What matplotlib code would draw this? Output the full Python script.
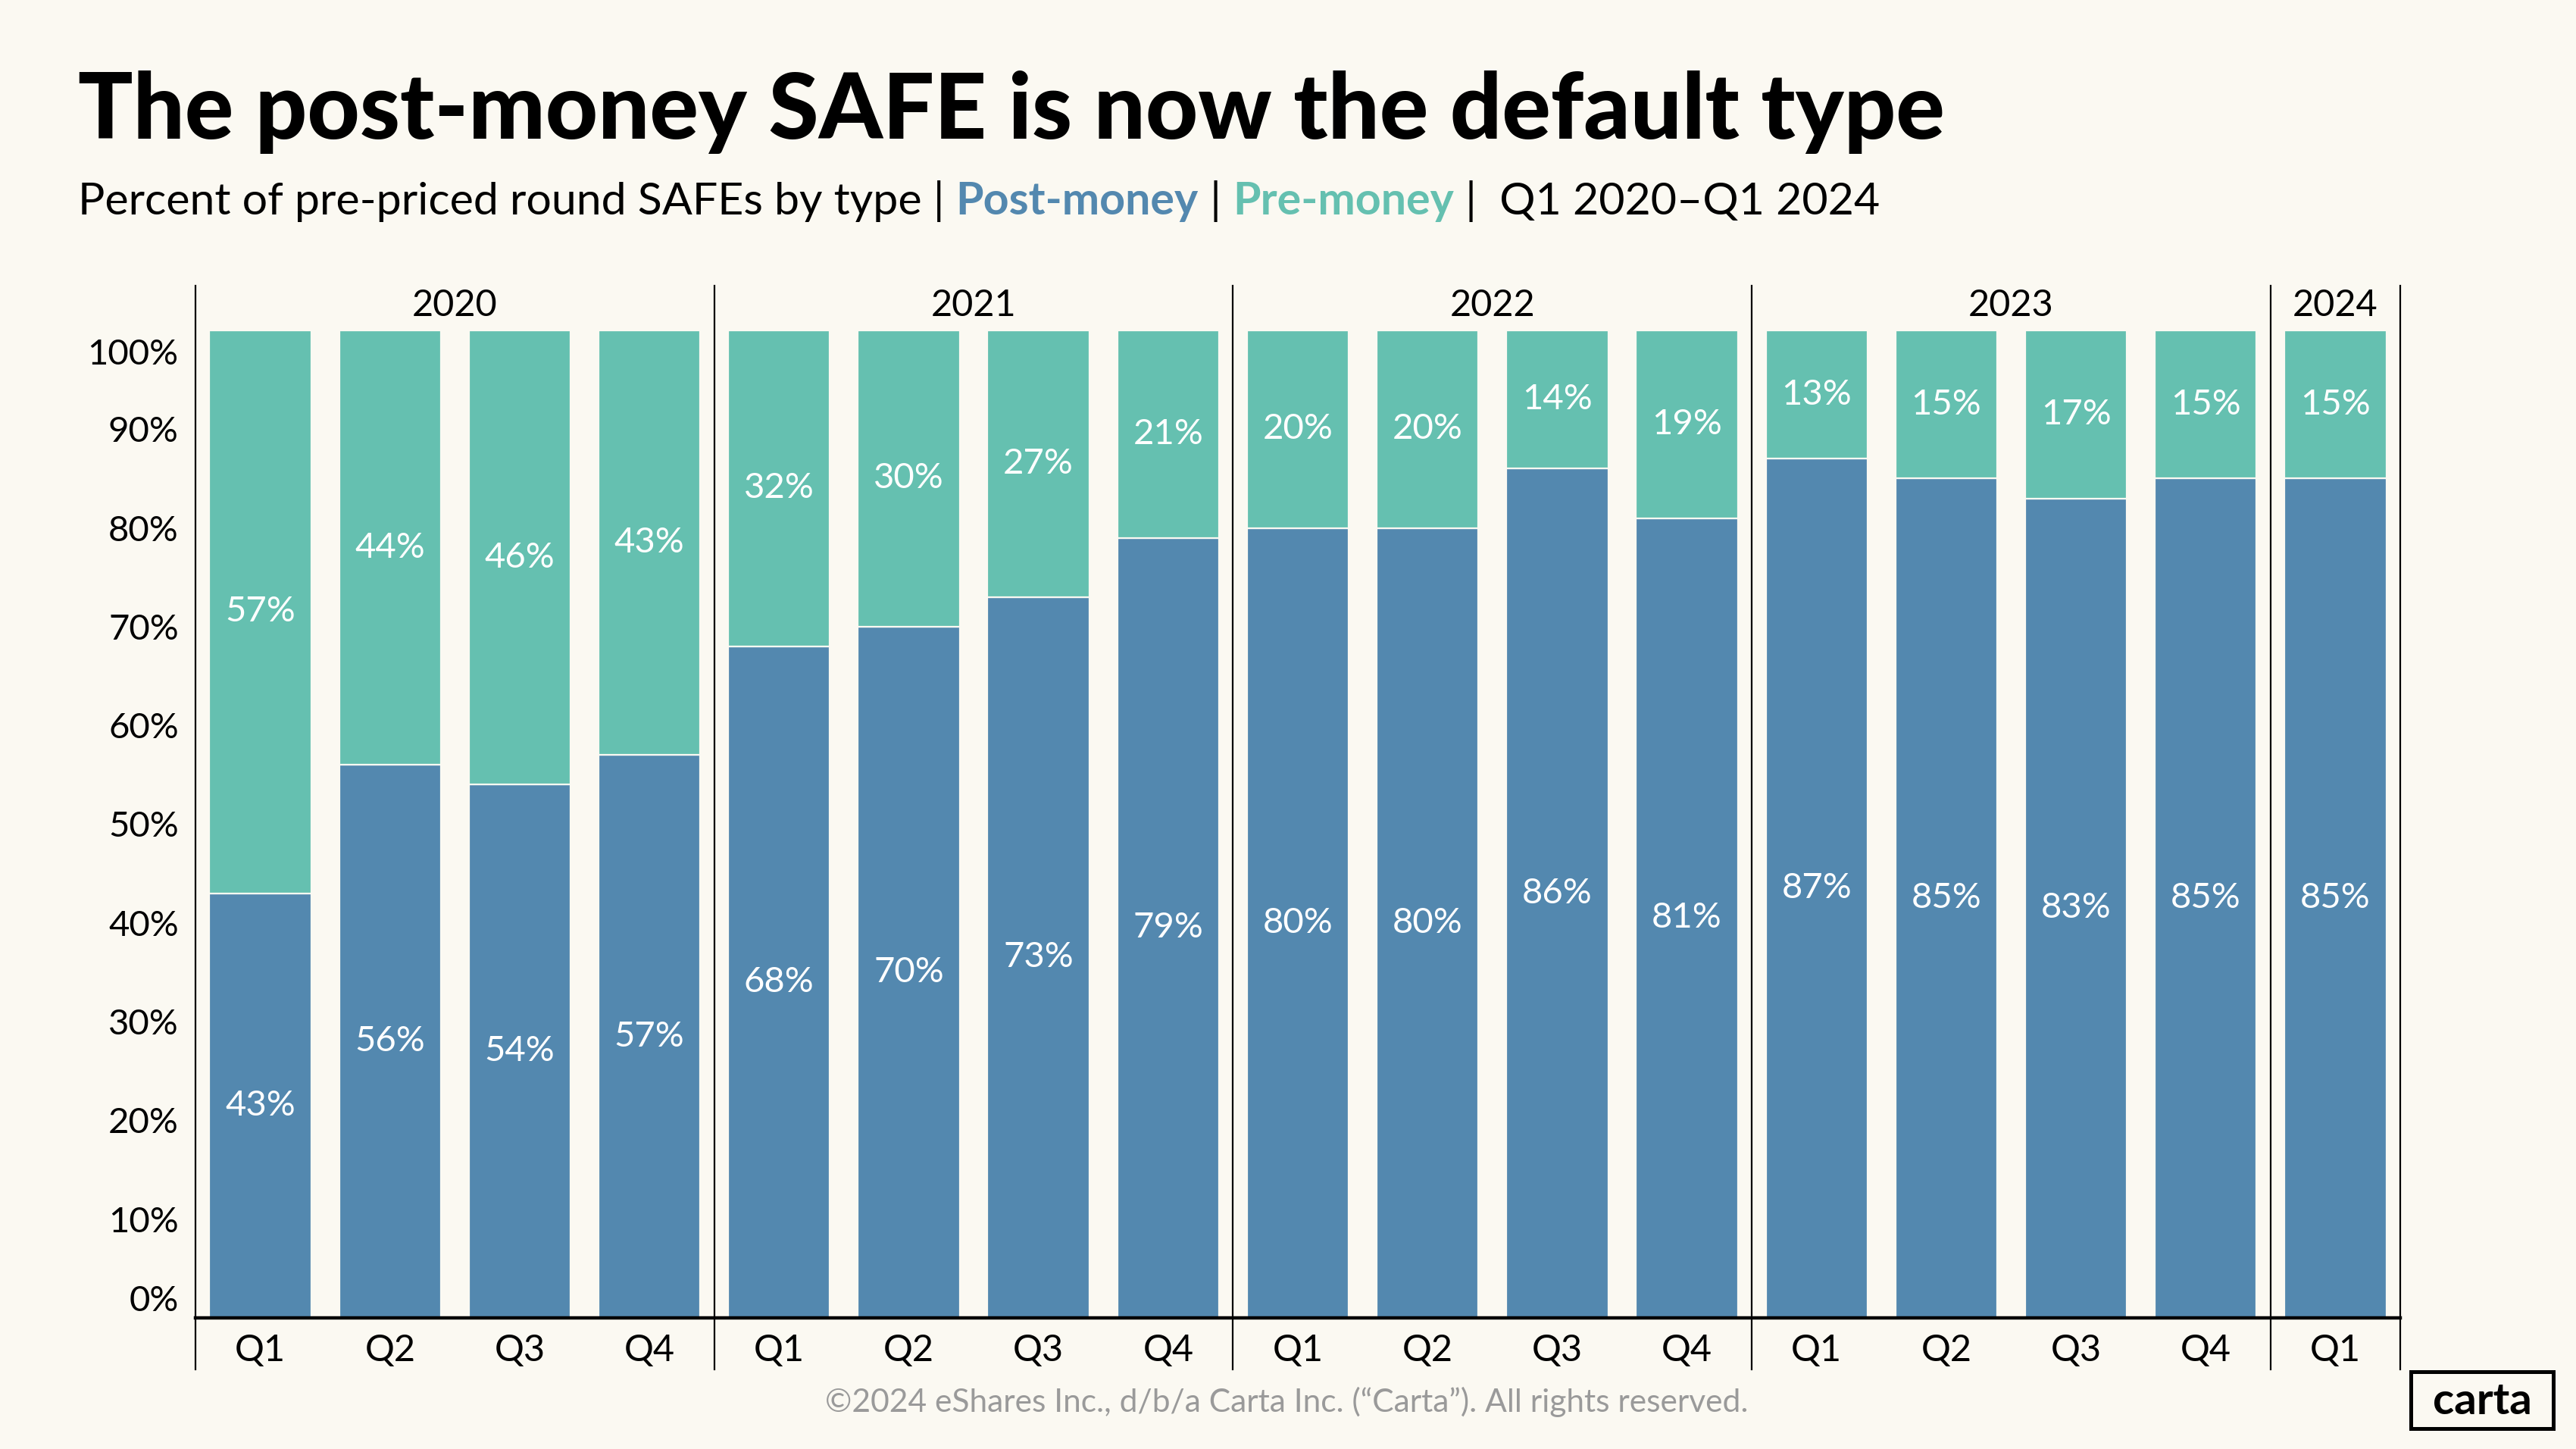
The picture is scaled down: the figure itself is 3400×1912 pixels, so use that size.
import matplotlib
matplotlib.use("Agg")
import matplotlib.pyplot as plt
from matplotlib.patches import Rectangle
from matplotlib.transforms import ScaledTranslation
import numpy as np

# data
years = ["2020", "2021", "2022", "2023", "2024"]
quarters_per_year = [4, 4, 4, 4, 1]
quarters = ["Q1", "Q2", "Q3", "Q4"] * 4 + ["Q1"]
post_money = [43, 56, 54, 57, 68, 70, 73, 79, 80, 80, 86, 81, 87, 85, 83, 85, 85]
pre_money = [57, 44, 46, 43, 32, 30, 27, 21, 20, 20, 14, 19, 13, 15, 17, 15, 15]
yticks = [0, 10, 20, 30, 40, 50, 60, 70, 80, 90, 100]

BG = "#FBF9F2"
POST = "#5388AF"
PRE = "#65C0B0"
FONT = "Lato"

plt.rcParams["font.family"] = [FONT, "DejaVu Sans"]

W, H = 3400, 1912
fig = plt.figure(figsize=(17, 9.56), dpi=200, facecolor=BG)
ax = fig.add_axes([258 / W, 1 - 1739 / H, (3168 - 258) / W, (1739 - 436) / H])
ax.set_facecolor(BG)

x = np.arange(len(post_money))
bw = 0.785
ax.bar(x, post_money, width=bw, color=POST, edgecolor=BG, linewidth=0.8)
ax.bar(x, pre_money, width=bw, bottom=post_money, color=PRE, edgecolor=BG, linewidth=0.8)

for i in range(len(x)):
    ax.text(x[i], post_money[i] / 2, f"{post_money[i]}%", color="white",
            ha="center", va="center", fontsize=17)
    ax.text(x[i], post_money[i] + pre_money[i] / 2, f"{pre_money[i]}%", color="white",
            ha="center", va="center", fontsize=17)

ax.set_xlim(-0.5, len(x) - 0.5)
ax.set_ylim(0, 100)
for s in ax.spines.values():
    s.set_visible(False)
ax.set_xticks([])
ax.set_yticks(yticks)
ax.set_yticklabels([f"{t}%" for t in yticks], fontsize=17)
ax.tick_params(axis="y", length=0, pad=8)
labs = ax.get_yticklabels()
labs[0].set_transform(labs[0].get_transform() + ScaledTranslation(0, 26 / 200, fig.dpi_scale_trans))
labs[-1].set_transform(labs[-1].get_transform() + ScaledTranslation(0, -28 / 200, fig.dpi_scale_trans))

# baseline
ax.axhline(0, color="black", lw=1.6, clip_on=False, zorder=5)

# year separators, year labels and quarter labels
trans = ax.get_xaxis_transform()
edges = np.concatenate([[0], np.cumsum(quarters_per_year)]) - 0.5
for e in edges:
    ax.plot([e, e], [-0.052, 1.045], transform=trans, color="black", lw=0.8,
            clip_on=False, zorder=4)
for k, yr in enumerate(years):
    ax.text((edges[k] + edges[k + 1]) / 2, 1.025, yr, transform=trans,
            ha="center", va="center", fontsize=17.5)
for i, q in enumerate(quarters):
    ax.text(x[i], -0.033, q, transform=trans, ha="center", va="center", fontsize=17.5)

# title
fig.text(103 / W, 1 - 183 / H, "The post-money SAFE is now the default type",
         fontsize=43.3, fontweight="black", ha="left", va="baseline")

# subtitle in coloured pieces
parts = [
    ("Percent of pre-priced round SAFEs by type | ", "black", "normal"),
    ("Post-money", POST, "bold"),
    (" | ", "black", "normal"),
    ("Pre-money", PRE, "bold"),
    (" |  Q1 2020\u2013Q1 2024", "black", "normal"),
]
renderer = fig.canvas.get_renderer()
xpos = 103
for txt, col, wt in parts:
    t = fig.text(xpos / W, 1 - 283 / H, txt, fontsize=21.3, color=col,
                 fontweight=wt, ha="left", va="baseline")
    bb = t.get_window_extent(renderer=renderer)
    xpos += bb.width

# footer
fig.text(1698 / W, 1 - 1850 / H,
         "\u00a92024 eShares Inc., d/b/a Carta Inc. (\u201cCarta\u201d). All rights reserved.",
         fontsize=15.3, color="#9A9A9A", ha="center", va="center")

fig.add_artist(Rectangle((3182 / W, 1 - 1885 / H), 188 / W, 75 / H,
                         transform=fig.transFigure, fill=False, ec="black", lw=1.8))
fig.text(3276 / W, 1 - 1850 / H, "carta", fontsize=21, fontweight="bold",
         ha="center", va="center")

fig.savefig("out.png", dpi=200, facecolor=BG)
